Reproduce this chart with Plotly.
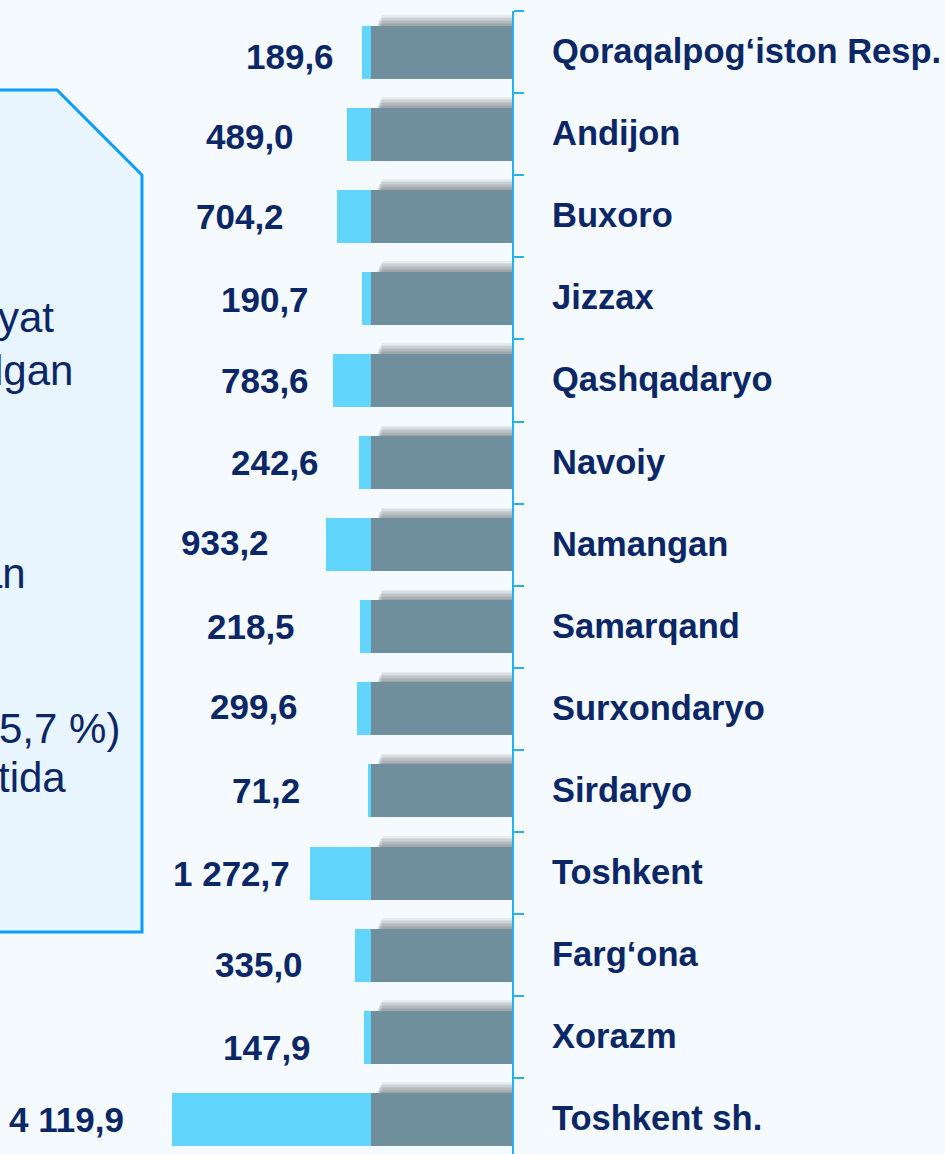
import plotly.graph_objects as go

# ---------------- data ----------------
regions = ["Qoraqalpog‘iston Resp.", "Andijon", "Buxoro", "Jizzax", "Qashqadaryo",
           "Navoiy", "Namangan", "Samarqand", "Surxondaryo", "Sirdaryo",
           "Toshkent", "Farg‘ona", "Xorazm", "Toshkent sh."]
values = [189.6, 489.0, 704.2, 190.7, 783.6, 242.6, 933.2, 218.5, 299.6, 71.2,
          1272.7, 335.0, 147.9, 4119.9]
box_fragments = ["yat", "lgan", "an", "5,7 %)", "tida"]

# ---------------- layout constants ----------------
W, H = 945, 1154
PLOT_R, PLOT_T = 512, 11
PX = 0.0483                 # pixels per value unit
PITCH = 82.1                # pixels per category
BW = 53 / PITCH             # bar thickness in category units
GRAY = 141 / PX             # constant grey part of every bar
NAVY = "#0B2766"
GRAY_C = "#6F8F9D"
BLUE_C = "#62D5FD"
AXIS_C = "#25B3EE"
BG = "#F5FAFF"
FONT = "Liberation Sans"

# label nudges (pixels): gap to bar end, vertical shift downwards
label_gap = [29, 54, 54, 54, 25, 41, 58, 66, 60, 69, 21, 53, 54, 49]
label_dy = [4.5, 2.5, 0, 1, 0, 0, -2, 0, -2, 0, 0, 9, 10, 0]

# text box fragments (right edge px, vertical centre px)
frag_pos = [(56, 317.5), (75, 370.5), (28, 573.5), (122, 728.5), (68, 777.5)]

n = len(regions)
plot_h = H - PLOT_T


def pxx(px):
    return px / PLOT_R


def pxy(py):
    return (H - py) / plot_h


def fmt(v):
    return f"{v:,.1f}".replace(",", " ").replace(".", ",")


fig = go.Figure()

# soft shadow above grey bars
for i, d in enumerate([1.5, 3, 4.5, 6, 7.5, 9, 10.5]):
    inset = 6 + i * 0.8
    fig.add_trace(go.Bar(
        y=regions, x=[GRAY - inset / PX] * n, base=0, orientation="h",
        width=BW + d / PITCH, offset=-BW / 2 - d / PITCH,
        marker=dict(color="rgba(60,60,60,0.075)", line=dict(width=0)),
        hoverinfo="skip", showlegend=False))

fig.add_trace(go.Bar(
    y=regions, x=[GRAY] * n, base=0, orientation="h",
    width=BW, offset=-BW / 2,
    marker=dict(color=GRAY_C, line=dict(width=0)), showlegend=False))

fig.add_trace(go.Bar(
    y=regions, x=values, base=GRAY, orientation="h",
    width=BW, offset=-BW / 2,
    marker=dict(color=BLUE_C, line=dict(width=0)), showlegend=False))

annotations = []
for r, v, g, dy in zip(regions, values, label_gap, label_dy):
    annotations.append(dict(
        x=GRAY + v, y=r, xref="x", yref="y", xanchor="right", yanchor="middle",
        xshift=-(g - 3), yshift=-dy, text=fmt(v), showarrow=False,
        font=dict(family=FONT, size=35, color=NAVY, weight="bold")))
    annotations.append(dict(
        x=1, y=r, xref="paper", yref="y", xanchor="left", yanchor="middle",
        xshift=38, yshift=1, text=r, showarrow=False,
        font=dict(family=FONT, size=34.5, color=NAVY, weight="bold")))

for t, (rx, cy) in zip(box_fragments, frag_pos):
    annotations.append(dict(
        x=pxx(rx), y=pxy(cy), xref="paper", yref="paper",
        xanchor="right", yanchor="middle", text=t, showarrow=False,
        font=dict(family=FONT, size=42, color=NAVY)))

box_pts = [(-20, 90), (57, 90), (142, 175), (142, 932), (-20, 932)]
path = "M " + " L ".join(f"{pxx(a):.5f},{pxy(b):.5f}" for a, b in box_pts) + " Z"

fig.update_layout(
    width=W, height=H,
    margin=dict(l=0, r=W - PLOT_R, t=PLOT_T, b=0, pad=0),
    paper_bgcolor=BG, plot_bgcolor=BG,
    barmode="overlay", bargap=0,
    showlegend=False,
    shapes=[dict(type="path", path=path, xref="paper", yref="paper",
                 fillcolor="#E8F5FE", line=dict(color="#0A9CFE", width=3),
                 layer="below")],
    annotations=annotations,
    xaxis=dict(range=[PLOT_R / PX, 0], visible=False, fixedrange=True),
    yaxis=dict(type="category", categoryorder="array", categoryarray=regions,
               range=[-0.5 + plot_h / PITCH, -0.5], side="right",
               showline=True, linecolor=AXIS_C, linewidth=2,
               ticks="outside", ticklen=10, tickwidth=2, tickcolor=AXIS_C,
               tickson="boundaries", showticklabels=False,
               showgrid=False, zeroline=False, fixedrange=True),
)

fig.write_html("out.html",
               config={"displayModeBar": False},
               post_script="document.body.style.margin='0';"
                           "document.body.style.background='" + BG + "';")
